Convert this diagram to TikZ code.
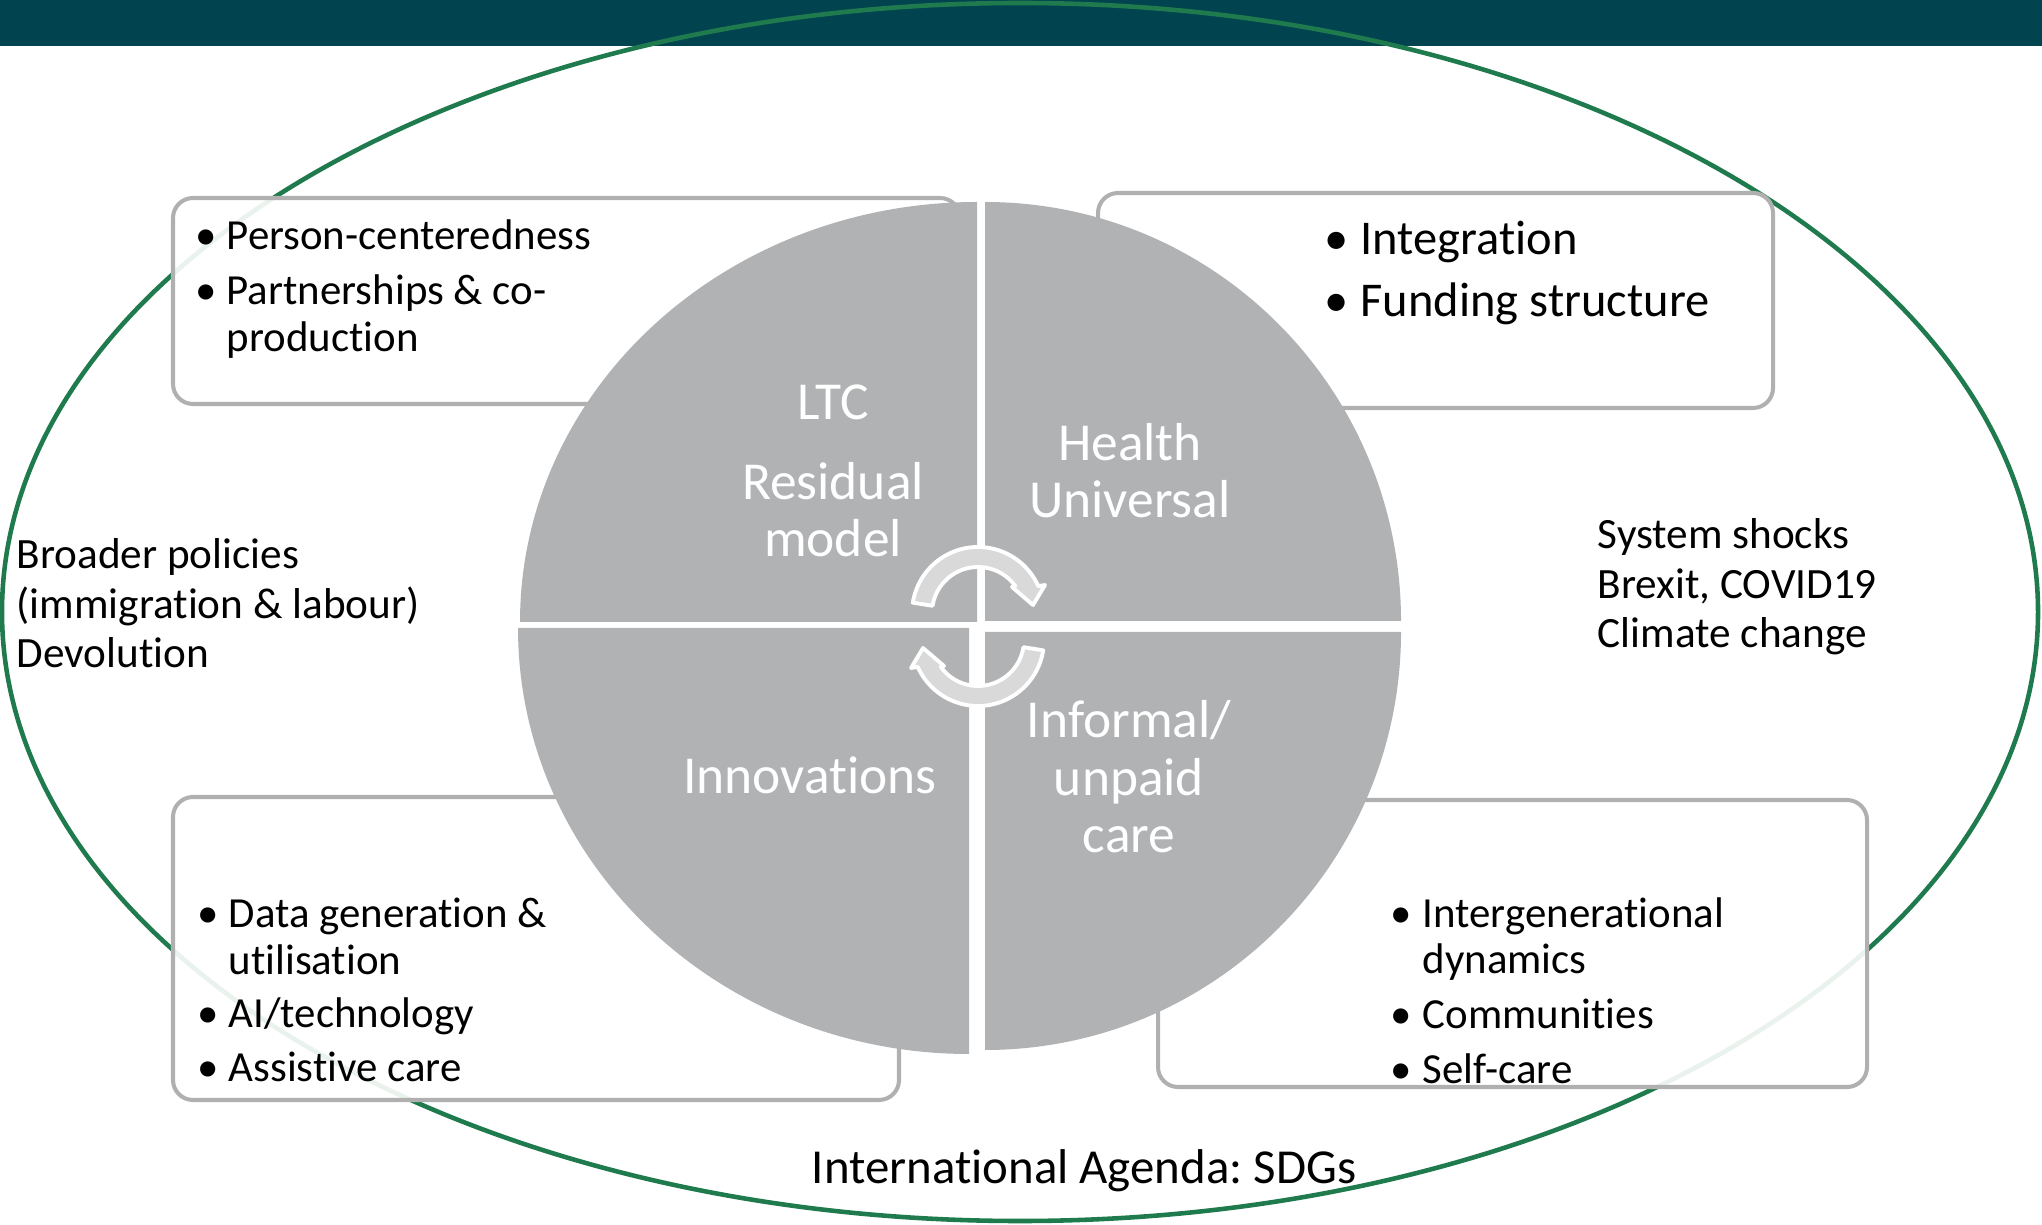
\documentclass[tikz,border=0pt]{standalone}
\usepackage{fontspec}
\setmainfont{Carlito}[Ligatures={NoCommon}]
\frenchspacing
\definecolor{barteal}{HTML}{01444F}
\definecolor{ringgreen}{HTML}{1F7B4D}
\definecolor{boxgray}{HTML}{B0B0B0}
\definecolor{piegray}{HTML}{B1B2B4}
\definecolor{arrowgray}{HTML}{D9D9D9}
\newcommand{\blist}[2]{\begin{tabular}[t]{@{}p{#1}@{}l@{}}#2\end{tabular}}

\begin{document}
\begin{tikzpicture}[
    infobox/.style={draw=boxgray, line width=1.15pt, rounded corners=0.2cm, fill=white, fill opacity=0.9},
    quarter/.style={fill=piegray},
    cyclearrow/.style={fill=arrowgray, draw=white, line width=1.1pt, line join=round},
    qtext/.style={white, align=center, anchor=base, inner sep=0pt, font=\fontsize{15.2}{16.4}\selectfont},
    listtext/.style={anchor=base west, inner sep=0pt, font=\fontsize{12.2}{13.2}\selectfont},
    sidetext/.style={anchor=base west, align=left, inner sep=0pt, font=\fontsize{12.3}{14.2}\selectfont}
]
    \useasboundingbox (0,0) rectangle (20.42,12.24);
    \fill[barteal] (0,11.78) rectangle (20.42,12.24);
    \draw[ringgreen, line width=1.3pt] (10.20,6.12) ellipse [x radius=10.18, y radius=6.09];

    % boxes behind the pie
    \draw[infobox] (1.73,8.20) rectangle (9.60,10.26);
    \draw[infobox] (10.98,8.16) rectangle (17.73,10.31);
    \draw[infobox] (1.73,1.24) rectangle (8.99,4.27);
    \draw[infobox] (11.58,1.37) rectangle (18.67,4.24);

    % the four quarters
    \fill[quarter] (9.77,6.02) -- ++(-4.57,0) arc[start angle=180, end angle=90, x radius=4.57, y radius=4.20] -- cycle;
    \fill[quarter] (9.85,6.03) -- ++(0,4.19) arc[start angle=90, end angle=0, x radius=4.16, y radius=4.19] -- cycle;
    \fill[quarter] (9.69,5.96) -- ++(0,-4.26) arc[start angle=270, end angle=180, x radius=4.51, y radius=4.26] -- cycle;
    \fill[quarter] (9.85,5.92) -- ++(4.16,0) arc[start angle=0, end angle=-90, x radius=4.16, y radius=4.18] -- cycle;

    % cycle arrows
    \begin{scope}[shift={(9.78,6.11)}]
        \filldraw[cyclearrow] (171:0.66) arc[start angle=171, end angle=24, radius=0.66] -- (0.67,0.28) -- (0.55,0.08) -- (0.34,0.26) -- (36:0.46) arc[start angle=36, end angle=171, radius=0.46] -- cycle;
    \end{scope}
    \begin{scope}[shift={(9.78,5.84)}, rotate=180]
        \filldraw[cyclearrow] (171:0.66) arc[start angle=171, end angle=24, radius=0.66] -- (0.67,0.28) -- (0.55,0.08) -- (0.34,0.26) -- (36:0.46) arc[start angle=36, end angle=171, radius=0.46] -- cycle;
    \end{scope}

    \node[qtext] (ltc) at (8.33,8.04) {LTC};
    \node[qtext] (residual) at (8.33,6.67) {Residual\\model};
    \node[qtext] (health) at (11.30,7.06) {Health\\Universal};
    \node[qtext] (innov) at (8.10,4.30) {Innovations};
    \node[qtext] (informal) at (11.29,3.71) {Informal/\\unpaid\\care};

    \node[listtext] (tllist) at (1.95,9.74) {\blist{0.31cm}{\textbullet & Person-centeredness\\[2.4pt] \textbullet & Partnerships \& co-\\ & production}};
    \node[listtext, font=\fontsize{13.8}{17.6}\selectfont] (trlist) at (13.24,9.69) {\blist{0.36cm}{\textbullet & Integration\\ \textbullet & Funding structure}};
    \node[listtext] (bllist) at (1.97,2.96) {\blist{0.31cm}{\textbullet & Data generation \&\\ & utilisation\\[2.0pt] \textbullet & AI/technology\\[2.0pt] \textbullet & Assistive care}};
    \node[listtext] (brlist) at (13.90,2.97) {\blist{0.32cm}{\textbullet & Intergenerational\\ & dynamics\\[2.4pt] \textbullet & Communities\\[2.4pt] \textbullet & Self-care}};

    \node[sidetext] (policies) at (0.16,5.56) {Broader policies\\(immigration \& labour)\\Devolution};
    \node[sidetext] (shocks) at (15.97,5.76) {System shocks\\Brexit, COVID19\\Climate change};
    \node[anchor=base, inner sep=0pt, font=\fontsize{13.9}{16}\selectfont] (sdgs) at (10.84,0.41) {International Agenda: SDGs};
\end{tikzpicture}
\end{document}
